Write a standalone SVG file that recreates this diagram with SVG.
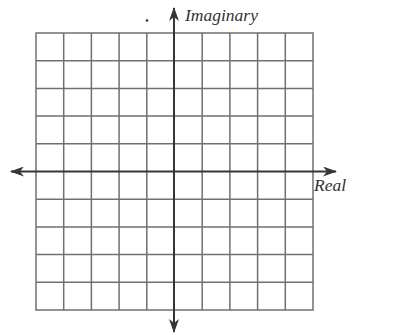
<svg xmlns="http://www.w3.org/2000/svg" width="393" height="335" viewBox="0 0 393 335">
<defs>
<style>
.grid{stroke:#707070;stroke-width:1.5;fill:none}
.axis{stroke:#363636;stroke-width:2;fill:none}
.lbl{font-family:"Liberation Serif","Times New Roman",serif;font-style:italic;font-size:17.5px;fill:#333}
</style>
<marker id="ah" viewBox="0 0 14 10" refX="13" refY="5" markerWidth="14" markerHeight="10" markerUnits="userSpaceOnUse" orient="auto">
<path d="M0,0 L14,5 L0,10 L4,5 Z" fill="#363636"/>
</marker>
</defs>
<rect width="393" height="335" fill="#fff"/>
<g id="grid" class="grid">
<rect x="36" y="33" width="277" height="277"/>
<path d="M63.7,33V310M91.4,33V310M119.1,33V310M146.8,33V310M202.2,33V310M229.9,33V310M257.6,33V310M285.3,33V310"/>
<path d="M36,60.7H313M36,88.4H313M36,116.1H313M36,143.8H313M36,199.2H313M36,226.9H313M36,254.6H313M36,282.3H313"/>
</g>
<g id="connectors">
<line class="axis" x1="174" y1="171.5" x2="336" y2="171.5" marker-end="url(#ah)"/>
<line class="axis" x1="174" y1="171.5" x2="11" y2="171.5" marker-end="url(#ah)"/>
<line class="axis" x1="174" y1="171.5" x2="174" y2="8" marker-end="url(#ah)"/>
<line class="axis" x1="174" y1="171.5" x2="174" y2="332" marker-end="url(#ah)"/>
</g>
<g id="label-imaginary"><text class="lbl" x="185" y="21">Imaginary</text></g>
<g id="label-real"><text class="lbl" x="314" y="191">Real</text></g>
<circle cx="147" cy="20.5" r="1.3" fill="#333"/>
</svg>
